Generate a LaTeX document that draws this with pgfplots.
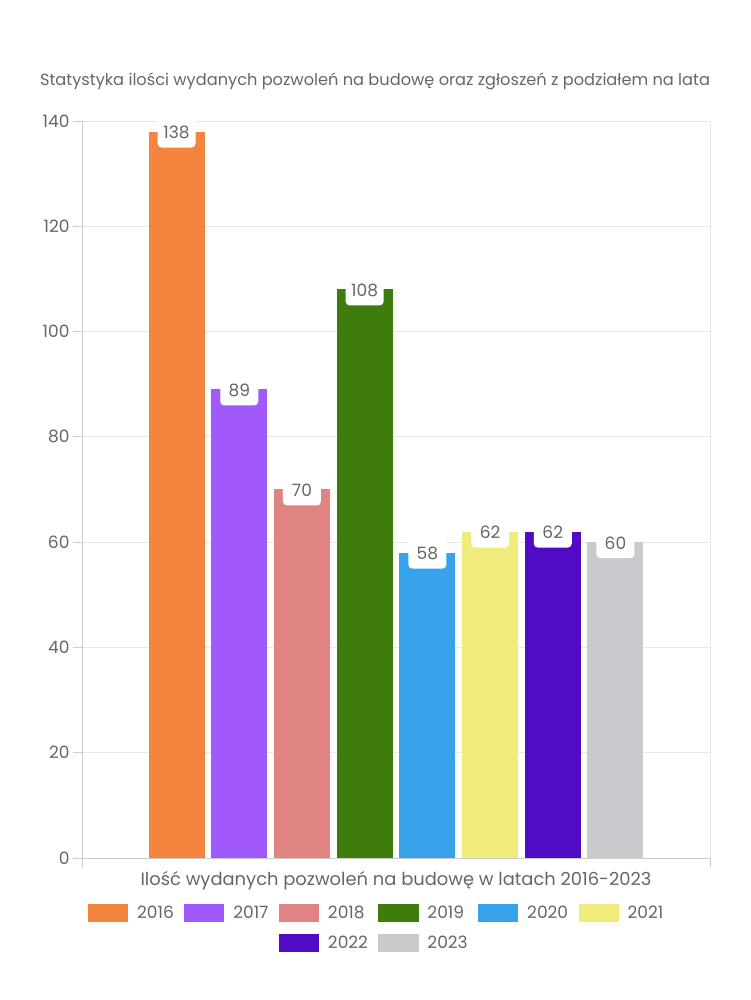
\documentclass[border=0pt]{standalone}
\usepackage{fontspec}
\setmainfont{Poppins}
\usepackage{pgfplots}
\pgfplotsset{compat=1.18}
\definecolor{txt}{HTML}{666666}
\definecolor{axisgray}{HTML}{CCCCCC}
\definecolor{gridgray}{HTML}{E8E8E8}
\definecolor{c16}{HTML}{F5843F}
\definecolor{c17}{HTML}{A05AFC}
\definecolor{c18}{HTML}{E08383}
\definecolor{c19}{HTML}{3E7D0C}
\definecolor{c20}{HTML}{37A3EA}
\definecolor{c21}{HTML}{F0EC7C}
\definecolor{c22}{HTML}{520BC4}
\definecolor{c23}{HTML}{C9CACE}
\begin{document}
\begin{tikzpicture}[x=1pt,y=1pt]
\useasboundingbox (0,0) rectangle (750,1000);
\begin{axis}[
  at={(82pt,142pt)}, anchor=south west,
  scale only axis, width=628pt, height=737pt,
  xmin=-314, xmax=314, ymin=0, ymax=140,
  ybar, bar width=56pt,
  ytick={0,20,...,140},
  xtick={-314,314}, xticklabels={},
  axis x line*=bottom, axis y line*=left,
  axis line style={draw=axisgray, line width=0.8pt, -},
  xmajorgrids, ymajorgrids,
  grid style={draw=gridgray, line width=0.8pt},
  tick style={draw=axisgray, line width=0.8pt},
  major tick length=9pt, tick align=outside,
  /pgf/number format/assume math mode=true,
  ticklabel style={font=\fontsize{17}{19}\selectfont, text=txt},
  title={Statystyka ilości wydanych pozwoleń na budowę oraz zgłoszeń z podziałem na lata},
  title style={at={(axis description cs:0.4666,1)}, anchor=base, yshift=29pt,
    font=\fontsize{16.2}{19}\selectfont, text=txt},
  xlabel={Ilość wydanych pozwoleń na budowę w latach 2016-2023},
  xlabel style={at={(axis description cs:0.5,0)}, anchor=base, yshift=-28pt,
    font=\fontsize{17.9}{20}\selectfont, text=txt},
  nodes near coords,
  every node near coord/.append style={anchor=center, fill=white, rounded corners=4pt,
    minimum width=38pt, minimum height=30pt, inner sep=0pt, text=txt,
    font=\fontsize{17}{19}\selectfont, yshift=-1pt},
  legend columns=6,
  legend image code/.code={\fill[#1] (0pt,-9pt) rectangle (40pt,9pt); \path (47pt,0pt);},
  legend style={at={(axis description cs:0.4693,-0.06)}, anchor=north, draw=none, fill=none,
    font=\fontsize{17}{19}\selectfont, text=txt, row sep=12pt,
    /tikz/every even column/.append style={column sep=8.5pt}},
  legend cell align=left,
]
\addplot[fill=c16, draw=none, bar shift=-219.45pt] coordinates {(0,138)};
\addlegendentry{2016}
\addplot[fill=c17, draw=none, bar shift=-156.75pt] coordinates {(0,89)};
\addlegendentry{2017}
\addplot[fill=c18, draw=none, bar shift=-94.05pt] coordinates {(0,70)};
\addlegendentry{2018}
\addplot[fill=c19, draw=none, bar shift=-31.35pt] coordinates {(0,108)};
\addlegendentry{2019}
\addplot[fill=c20, draw=none, bar shift=31.35pt] coordinates {(0,58)};
\addlegendentry{2020}
\addplot[fill=c21, draw=none, bar shift=94.05pt] coordinates {(0,62)};
\addlegendentry{2021}
\addlegendimage{empty legend}\addlegendentry{}
\addlegendimage{empty legend}\addlegendentry{}
\addplot[fill=c22, draw=none, bar shift=156.75pt] coordinates {(0,62)};
\addlegendentry{2022}
\addplot[fill=c23, draw=none, bar shift=219.45pt] coordinates {(0,60)};
\addlegendentry{2023}
\end{axis}
\end{tikzpicture}
\end{document}
